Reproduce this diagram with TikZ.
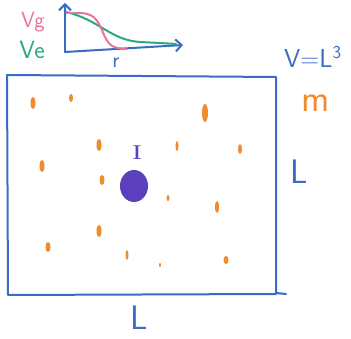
\documentclass[tikz,border=0pt]{standalone}
\usepackage{tikz}
\usetikzlibrary{arrows.meta,positioning}
\usepackage{xcolor}
\definecolor{penblue}{HTML}{3A6CC6}
\definecolor{penorange}{HTML}{F28A2E}
\definecolor{penpurple}{HTML}{5B40BD}
\definecolor{penpink}{HTML}{EC7399}
\definecolor{pengreen}{HTML}{2AA887}

\begin{document}
\begin{tikzpicture}[
  x=1pt, y=-1pt,
  pen/.style={draw=#1, line width=2pt, line cap=round, line join=round},
  hand/.style={text=#1, font=\fontsize{22}{24}\selectfont\sffamily, inner sep=0pt},
  big/.style={font=\fontsize{34}{36}\selectfont\sffamily},
  speck/.style={fill=penorange, draw=none},
  arrow/.style={-{Straight Barb[length=6pt]}, pen=penblue}
]
  \useasboundingbox (0,0) rectangle (351,339);

  % potential sketch
  \coordinate (org) at (65,52);
  \draw[arrow] (org) -- (65,3);
  \draw[arrow] (org) -- (183,45);
  \draw[pen=pengreen] (66,12) .. controls (100,20) and (110,40) .. (140,42) .. controls (160,43) .. (176,44);
  \draw[pen=penpink] (67,13) .. controls (90,12) and (95,14) .. (102,30) .. controls (108,46) and (112,48) .. (126,49);
  \node[hand=penpink] (vg) at (33,22) {Vg};
  \node[hand=pengreen, font=\fontsize{25}{27}\selectfont\sffamily] (ve) at (32,50) {Ve};
  \node[hand=penblue] (r) at (116,63) {r};

  % box of side L
  \draw[pen=penblue] (7,75) -- (276,77) -- (276,293) -- (286,294);
  \draw[pen=penblue] (7,75) -- (8,295) -- (276,294);
  \node[hand=penblue, font=\fontsize{26}{28}\selectfont\sffamily] (vol) at (313,57) {V=L\textsuperscript{3}};
  \node[hand=penorange, font=\fontsize{38}{40}\selectfont\sffamily] (mass) at (316,103) {m};
  \node[hand=penblue, big] (lr) at (299,172) {L};
  \node[hand=penblue, big] (lb) at (139,318) {L};

  % scattered particles
  \foreach \px/\py/\rx/\ry in {33/103/2.5/6, 71/98/2/4, 205/113/3/9, 99/145/2.5/6,
      177/146/1.5/5, 240/149/2/5, 42/166/2.5/6, 102/180/2.5/5, 168/198/1.5/3,
      217/207/2/6, 99/231/2.5/6, 48/247/2.5/5, 127/255/1.5/5, 160/265/1/2, 226/260/2.5/4}
    \fill[speck] (\px,\py) ellipse ({\rx} and {\ry});

  % central body
  \fill[penpurple] (134,186) ellipse (14 and 16);
  \node[text=penpurple, font=\fontsize{20}{22}\selectfont\bfseries, inner sep=0pt] (inertia) at (137,153) {I};
\end{tikzpicture}
\end{document}
